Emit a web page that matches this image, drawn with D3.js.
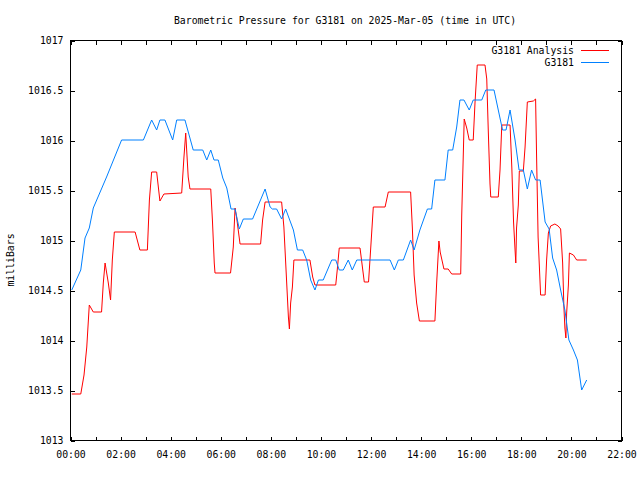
<!DOCTYPE html>
<html>
<head>
<meta charset="utf-8">
<script src="https://cdn.jsdelivr.net/npm/d3@7"></script>
<style>
  html, body { margin: 0; padding: 0; background: #fff; }
  svg { display: block; }
  text { font-family: "DejaVu Sans Mono", monospace; font-size: 9.8px; fill: #000; }
</style>
</head>
<body>
<svg id="chart" width="640" height="480"></svg>
<script>
const title = "Barometric Pressure for G3181 on 2025-Mar-05 (time in UTC)";
const yLabel = "milliBars";
const seriesNames = ["G3181 Analysis", "G3181"];
const seriesColors = ["#ff0000", "#0080ff"];

const xTickHours = d3.range(0, 23);
const xTickLabels = ["00:00","","02:00","","04:00","","06:00","","08:00","","10:00","","12:00","","14:00","","16:00","","18:00","","20:00","","22:00"];
const yTickValues = [1013, 1013.5, 1014, 1014.5, 1015, 1015.5, 1016, 1016.5, 1017];
const yTickLabels = ["1013","1013.5","1014","1014.5","1015","1015.5","1016","1016.5","1017"];

// Observed station (blue): hours UTC, millibars
const obsHours = [0.07,0.43,0.6,0.77,0.93,1.46,2.06,2.93,3.26,3.46,3.59,3.79,4.1,4.26,4.59,4.92,5.3,5.46,5.62,5.75,5.92,6.1,6.26,6.43,6.59,6.76,6.92,7.29,7.79,7.99,8.08,8.25,8.45,8.61,8.92,9.08,9.29,9.45,9.61,9.78,9.92,10.11,10.45,10.61,10.75,10.91,11.11,11.27,11.45,12.78,12.95,13.11,13.31,13.6,13.74,13.97,14.27,14.44,14.57,14.97,15.1,15.28,15.44,15.57,15.73,15.94,16.1,16.44,16.6,16.93,17.1,17.27,17.41,17.57,17.77,17.93,18.1,18.26,18.43,18.59,18.77,18.97,19.13,19.27,19.43,19.59,19.76,19.92,20.1,20.26,20.43,20.63];
const obsValues = [1014.5,1014.7,1015.02,1015.12,1015.32,1015.63,1016.0,1016.0,1016.2,1016.1,1016.2,1016.2,1016.0,1016.2,1016.2,1015.9,1015.9,1015.8,1015.9,1015.8,1015.8,1015.62,1015.52,1015.31,1015.31,1015.11,1015.21,1015.21,1015.51,1015.33,1015.31,1015.31,1015.21,1015.31,1015.1,1014.9,1014.9,1014.8,1014.6,1014.5,1014.6,1014.6,1014.8,1014.8,1014.7,1014.7,1014.8,1014.7,1014.8,1014.8,1014.7,1014.8,1014.8,1015.0,1014.9,1015.1,1015.31,1015.31,1015.6,1015.6,1015.9,1015.9,1016.13,1016.4,1016.4,1016.3,1016.4,1016.4,1016.5,1016.5,1016.3,1016.1,1016.1,1016.3,1016.0,1015.7,1015.7,1015.51,1015.7,1015.6,1015.6,1015.18,1015.11,1014.82,1014.7,1014.5,1014.3,1014.0,1013.9,1013.8,1013.5,1013.6];

// Analysis (red): hours UTC, millibars
const anaHours = [0.07,0.43,0.56,0.67,0.77,0.93,1.26,1.33,1.4,1.53,1.62,1.69,1.77,2.6,2.79,3.09,3.17,3.26,3.46,3.59,3.75,4.46,4.55,4.62,4.72,4.79,5.62,5.69,5.76,5.79,6.41,6.52,6.59,6.65,6.79,7.61,7.69,7.79,8.45,8.54,8.62,8.72,8.76,8.81,8.88,8.94,9.58,9.69,9.78,10.61,10.67,10.75,11.58,11.69,11.75,11.92,12.01,12.11,12.58,12.71,13.6,13.67,13.74,13.84,13.95,14.57,14.64,14.73,14.78,14.93,15.1,15.24,15.6,15.64,15.68,15.74,15.84,15.94,16.1,16.17,16.26,16.57,16.64,16.7,16.77,16.8,17.1,17.17,17.24,17.57,17.64,17.71,17.77,17.8,17.83,17.9,17.94,18.1,18.17,18.26,18.5,18.59,18.63,18.69,18.79,18.97,19.03,19.1,19.19,19.36,19.49,19.59,19.67,19.72,19.76,19.8,19.83,19.9,19.94,20.1,20.23,20.63];
const anaValues = [1013.46,1013.46,1013.65,1013.93,1014.35,1014.28,1014.28,1014.57,1014.77,1014.57,1014.4,1014.8,1015.08,1015.08,1014.9,1014.9,1015.4,1015.68,1015.68,1015.39,1015.46,1015.47,1015.83,1016.07,1015.63,1015.51,1015.51,1015.18,1014.77,1014.67,1014.67,1014.93,1015.32,1015.23,1014.96,1014.96,1015.2,1015.38,1015.38,1015.13,1014.73,1014.23,1014.11,1014.37,1014.53,1014.8,1014.8,1014.63,1014.55,1014.55,1014.7,1014.92,1014.92,1014.7,1014.58,1014.58,1014.93,1015.33,1015.33,1015.48,1015.48,1015.12,1014.65,1014.37,1014.19,1014.19,1014.57,1014.99,1014.88,1014.71,1014.71,1014.66,1014.66,1015.24,1015.63,1016.21,1016.12,1016.0,1016.0,1016.37,1016.75,1016.75,1016.61,1016.1,1015.56,1015.43,1015.43,1015.7,1016.15,1016.15,1015.73,1015.18,1014.9,1014.77,1015.12,1015.35,1015.69,1015.69,1015.93,1016.38,1016.39,1016.41,1015.83,1015.03,1014.45,1014.45,1014.8,1015.07,1015.14,1015.16,1015.14,1015.11,1014.77,1014.33,1014.12,1014.02,1014.27,1014.55,1014.87,1014.85,1014.8,1014.8];

const svg = d3.select("#chart");
const mLeft = 70, mRight = 621, mTop = 40, mBottom = 440;

const x = d3.scaleLinear().domain([0, 22]).range([mLeft, mRight]);
const y = d3.scaleLinear().domain([1013, 1017]).range([mBottom, mTop]);

// border
svg.append("rect")
  .attr("x", mLeft + 0.5).attr("y", mTop + 0.5)
  .attr("width", mRight - mLeft).attr("height", mBottom - mTop)
  .attr("fill", "none").attr("stroke", "#000").attr("stroke-width", 1)
  .attr("shape-rendering", "crispEdges");

function styleAxis(g) {
  g.select(".domain").remove();
  g.selectAll("line").attr("stroke", "#000").attr("shape-rendering", "crispEdges");
  g.selectAll("text").attr("font-family", '"DejaVu Sans Mono", monospace').attr("font-size", "9.8px").attr("fill", "#000");
}

svg.append("g").attr("transform", `translate(0.5,${mBottom + 0.5})`)
  .call(d3.axisBottom(x).tickValues(xTickHours).tickSize(-4).tickPadding(11)
    .tickFormat((d, i) => xTickLabels[i]))
  .call(styleAxis);
svg.append("g").attr("transform", `translate(0.5,${mTop + 0.5})`)
  .call(d3.axisTop(x).tickValues(xTickHours).tickSize(-4).tickFormat(""))
  .call(styleAxis);
svg.append("g").attr("transform", `translate(${mLeft + 0.5},0.5)`)
  .call(d3.axisLeft(y).tickValues(yTickValues).tickSize(-4).tickPadding(7)
    .tickFormat((d, i) => yTickLabels[i]))
  .call(styleAxis);
svg.append("g").attr("transform", `translate(${mRight + 0.5},0.5)`)
  .call(d3.axisRight(y).tickValues(yTickValues).tickSize(-4).tickFormat(""))
  .call(styleAxis);

// title and y label
svg.append("text").attr("x", 345).attr("y", 24).attr("text-anchor", "middle").text(title);
svg.append("text").attr("transform", "translate(14,260) rotate(-90)").attr("text-anchor", "middle").text(yLabel);

const line = d3.line().x(d => x(d[0])).y(d => y(d[1]));
const ana = anaHours.map((h, i) => [h, anaValues[i]]);
const obs = obsHours.map((h, i) => [h, obsValues[i]]);

svg.append("path").datum(ana).attr("d", line)
  .attr("fill", "none").attr("stroke", seriesColors[0]).attr("stroke-width", 1);
svg.append("path").datum(obs).attr("d", line)
  .attr("fill", "none").attr("stroke", seriesColors[1]).attr("stroke-width", 1);

// legend
const legendY = [50.5, 62.5];
seriesNames.forEach((name, i) => {
  svg.append("text").attr("x", 574).attr("y", legendY[i]).attr("dy", "0.32em")
    .attr("text-anchor", "end").text(name);
  svg.append("line").attr("x1", 581).attr("x2", 609)
    .attr("y1", legendY[i]).attr("y2", legendY[i])
    .attr("stroke", seriesColors[i]).attr("stroke-width", 1);
});
</script>
</body>
</html>
